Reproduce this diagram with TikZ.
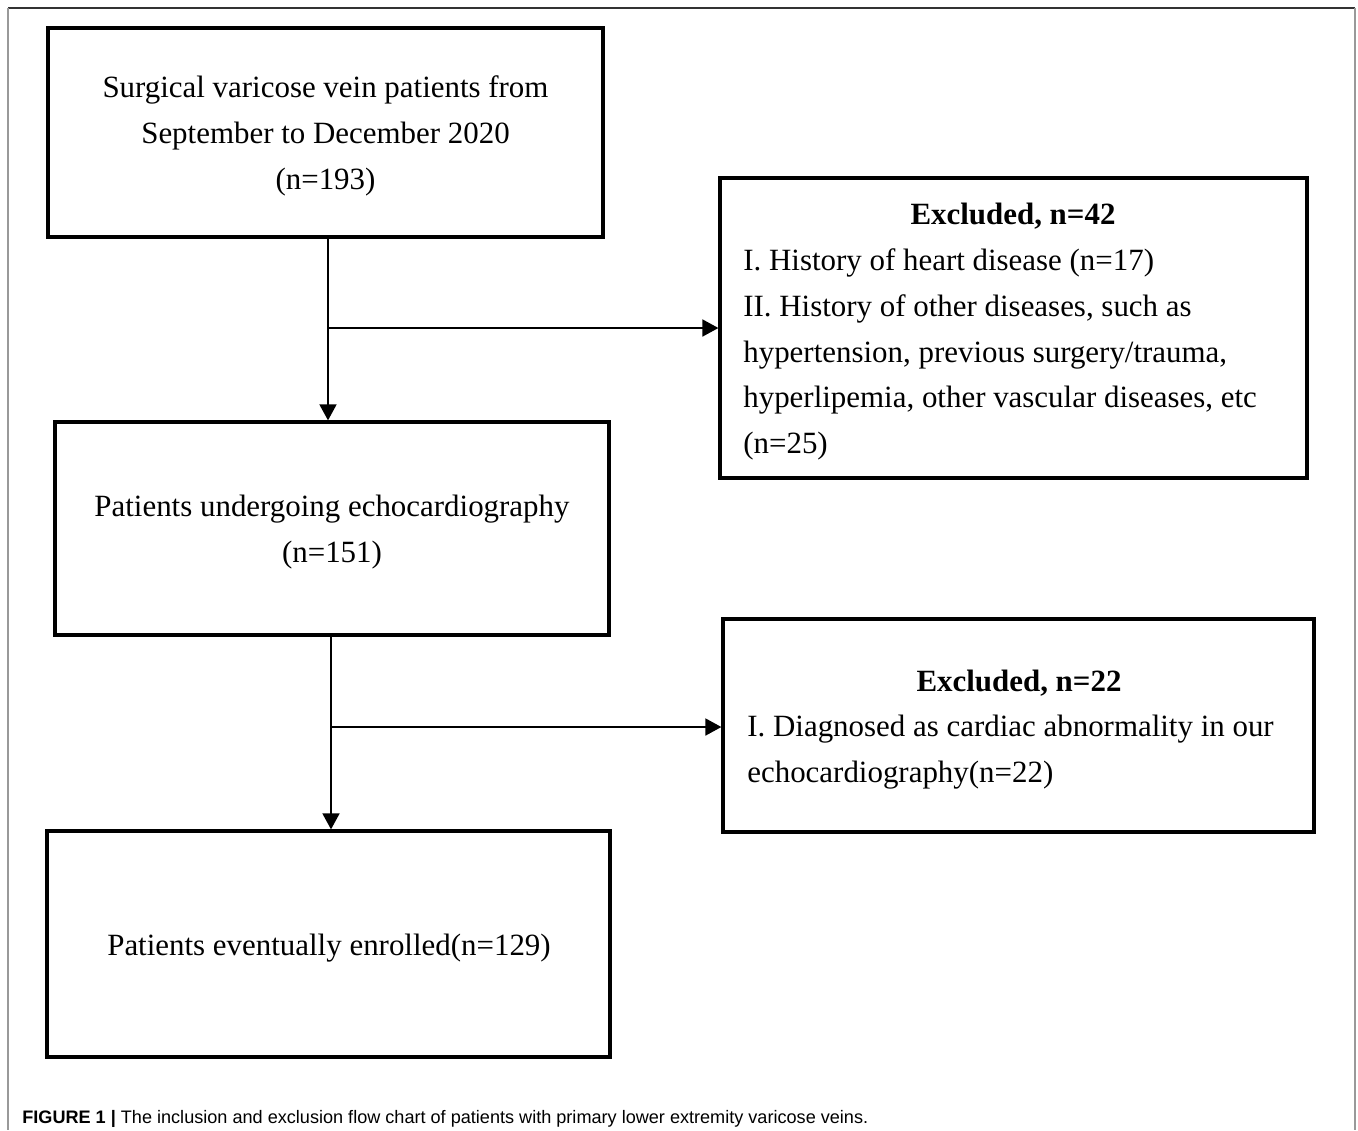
\documentclass[tikz,border=0pt]{standalone}
\usepackage{fontspec}
\setmainfont{Liberation Serif}
\newfontfamily\capfont{Liberation Sans}
\usetikzlibrary{arrows.meta}

\begin{document}
\begin{tikzpicture}[x=0.02cm,y=-0.02cm,
  box/.style={draw, line width=1.9pt, inner sep=0pt, minimum height=#1},
  txt/.style={inner sep=0pt, align=left, font=\fontsize{17.6pt}{26pt}\selectfont},
  arr/.style={line width=1pt, -{Triangle[length=0.32cm,width=0.34cm]}}]
  \useasboundingbox (0,0) rectangle (1358,1130);
  \draw [black!80, line width=1pt]  (8,8) -- (1355,8);
  \draw [gray!80, line width=1pt]   (8,8) -- (8,1130);
  \draw [gray!80, line width=1pt]   (1355,8) -- (1355,1130);

  \node [box=4.18cm, minimum width=11.1cm] (surg) at (325.5,132.5) {};
  \node [box=6cm, minimum width=11.74cm] (exclA) at (1013.5,328) {};
  \node [box=4.26cm, minimum width=11.08cm] (echo) at (332,528.5) {};
  \node [box=4.26cm, minimum width=11.82cm] (exclB) at (1018.5,725.5) {};
  \node [box=4.52cm, minimum width=11.26cm] (enrol) at (328.5,944) {};

  \node [txt, align=center] (surgt) at (325.5,136)
    {Surgical varicose vein patients from\\September to December 2020\\(n=193)};
  \node [txt, align=center] (echot) at (332,532) {Patients undergoing echocardiography\\(n=151)};
  \node [txt, align=center] (enrolt) at (329,948) {Patients eventually enrolled(n=129)};

  \node [txt, font=\fontsize{17.6pt}{26pt}\selectfont\bfseries] (exclAt) at (1013,216) {Excluded, n=42};
  \node [txt, anchor=west] (exclAl) at (743,354.5)
    {I. History of heart disease (n=17)\\II. History of other diseases, such as\\hypertension, previous surgery/trauma,\\hyperlipemia, other vascular diseases, etc\\(n=25)};
  \node [txt, font=\fontsize{17.6pt}{26pt}\selectfont\bfseries] (exclBt) at (1019,683) {Excluded, n=22};
  \node [txt, anchor=west] (exclBl) at (747,752)
    {I. Diagnosed as cardiac abnormality in our\\echocardiography(n=22)};

  \coordinate (j1) at (328,328);
  \coordinate (j2) at (331,727);
  \draw [arr] (j1 |- surg.south) -- (j1 |- echo.north);
  \draw [arr] (j1) -- (j1 -| exclA.west);
  \draw [arr] (j2 |- echo.south) -- (j2 |- enrol.north);
  \draw [arr] (j2) -- (j2 -| exclB.west);

  \node [anchor=base west, inner sep=0pt, font=\capfont\fontsize{10.3pt}{13pt}\selectfont] (cap) at (22,1123)
    {\textbf{FIGURE 1 |} The inclusion and exclusion flow chart of patients with primary lower extremity varicose veins.};
\end{tikzpicture}
\end{document}
